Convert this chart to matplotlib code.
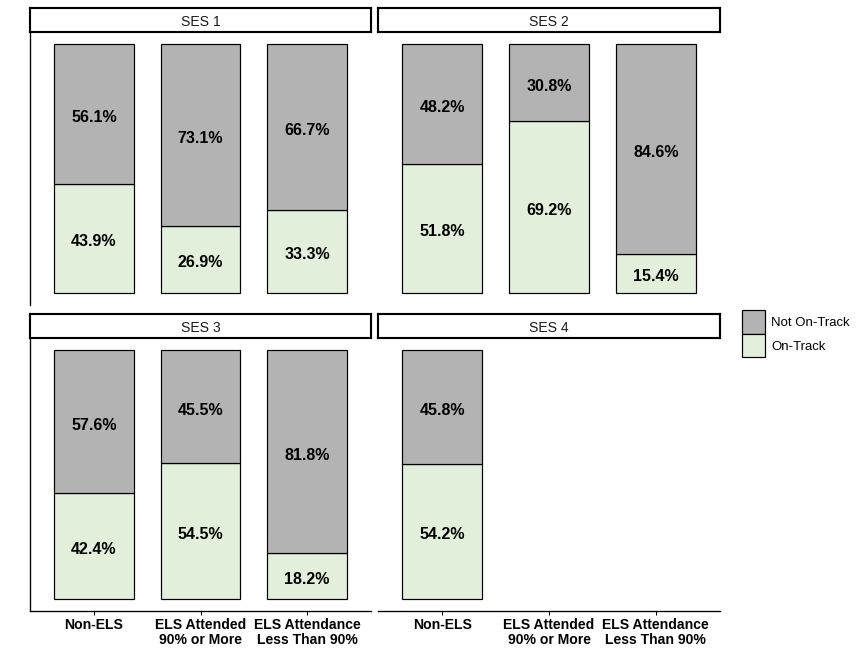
import numpy as np
import matplotlib.pyplot as plt
from matplotlib.patches import Rectangle
from matplotlib.transforms import offset_copy

plt.rcParams['font.family'] = ['Liberation Sans', 'DejaVu Sans']

# Дані: частки учнів за групами SES
categories = ['Non-ELS', 'ELS Attended\n90% or More', 'ELS Attendance\nLess Than 90%']
panels = ['SES 1', 'SES 2', 'SES 3', 'SES 4']
on_track = [
    [43.9, 26.9, 33.3],
    [51.8, 69.2, 15.4],
    [42.4, 54.5, 18.2],
    [54.2],
]
not_on_track = [
    [56.1, 73.1, 66.7],
    [48.2, 30.8, 84.6],
    [57.6, 45.5, 81.8],
    [45.8],
]

grey = '#B3B3B3'
green = '#E2EFDA'

W, H = 864, 672
fig = plt.figure(figsize=(9, 7), dpi=96)


def px(x0, y0, x1, y1):
    return [x0 / W, 1 - y1 / H, (x1 - x0) / W, (y1 - y0) / H]


# розташування панелей у пікселях: (x0, x1, strip_top, plot_top, plot_bottom)
boxes = [
    (30, 371, 8, 32, 305),
    (378, 720, 8, 32, 305),
    (30, 371, 314, 338, 611),
    (378, 720, 314, 338, 611),
]

for i, (x0, x1, s0, p0, p1) in enumerate(boxes):
    # смуга з назвою панелі
    sax = fig.add_axes(px(x0, s0, x1, p0))
    sax.set_xticks([])
    sax.set_yticks([])
    for sp in sax.spines.values():
        sp.set_linewidth(1.6)
    sax.text(0.5, 0.5, panels[i], ha='center', va='center_baseline', fontsize=10.5, color='#1A1A1A')

    ax = fig.add_axes(px(x0, p0, x1, p1))
    xs = np.arange(1, len(on_track[i]) + 1)
    ax.bar(xs, on_track[i], width=0.75, color=green, edgecolor='black', linewidth=0.9)
    ax.bar(xs, not_on_track[i], width=0.75, bottom=on_track[i], color=grey,
           edgecolor='black', linewidth=0.9)
    tr = offset_copy(ax.transData, fig=fig, y=-1.5, units='points')
    for x, a, b in zip(xs, on_track[i], not_on_track[i]):
        ax.text(x, a / 2, f'{a:.1f}%', ha='center', va='center_baseline', fontsize=12,
                fontweight='bold', transform=tr)
        ax.text(x, a + b / 2, f'{b:.1f}%', ha='center', va='center_baseline', fontsize=12,
                fontweight='bold', transform=tr)

    ax.set_xlim(0.4, 3.6)
    ax.set_ylim(-5, 105)
    ax.set_yticks([])
    ax.spines['top'].set_visible(False)
    ax.spines['right'].set_visible(False)
    ax.spines['left'].set_visible(i % 2 == 0)
    ax.spines['left'].set_linewidth(1.0)
    ax.spines['bottom'].set_linewidth(1.0)
    ax.spines['bottom'].set_visible(i >= 2)
    ax.set_facecolor('none')
    if i >= 2:
        ax.set_xticks([1, 2, 3])
        ax.set_xticklabels(categories, fontsize=10.5, fontweight='bold', linespacing=1.05)
        ax.tick_params(axis='x', length=3, width=0.8, pad=2.5)
    else:
        ax.set_xticks([])

# легенда
lax = fig.add_axes([0, 0, 1, 1])
lax.set_xlim(0, W)
lax.set_ylim(H, 0)
lax.axis('off')
lax.add_patch(Rectangle((742, 310), 23, 24, facecolor=grey, edgecolor='black', linewidth=0.9))
lax.add_patch(Rectangle((742, 334), 23, 23, facecolor=green, edgecolor='black', linewidth=0.9))
lax.text(771, 322, 'Not On-Track', va='center_baseline', ha='left', fontsize=9.8)
lax.text(771, 346, 'On-Track', va='center_baseline', ha='left', fontsize=9.8)

fig.savefig('out.png', dpi=96)
